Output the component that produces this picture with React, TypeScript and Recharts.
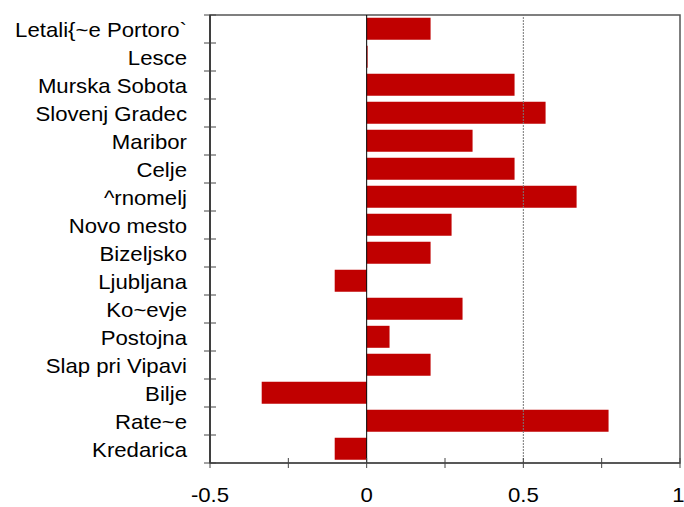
import { BarChart, Bar, XAxis, YAxis, ReferenceLine, ReferenceArea } from "recharts";

const RED = "#C00000";

const stations = [
  "Letali{~e Portoro`", "Lesce", "Murska Sobota", "Slovenj Gradec", "Maribor", "Celje",
  "^rnomelj", "Novo mesto", "Bizeljsko", "Ljubljana", "Ko~evje", "Postojna",
  "Slap pri Vipavi", "Bilje", "Rate~e", "Kredarica",
];
const values = [
  0.204, 0.003, 0.472, 0.571, 0.338, 0.472,
  0.67, 0.271, 0.204, -0.102, 0.306, 0.073,
  0.204, -0.335, 0.772, -0.102,
];
const xTicks = [-0.5, -0.25, 0, 0.25, 0.5, 0.75, 1];

const data = stations.map((name, i) => ({ name, value: values[i] }));

const FONT = "'Liberation Sans', Arial, sans-serif";

function YTick(props: any) {
  const { x, y, payload, index } = props;
  const half = 14;
  return (
    <g>
      <line x1={x - 6} x2={x + 6} y1={y - half} y2={y - half} stroke="#444" />
      {index === stations.length - 1 && <line x1={x - 6} x2={x + 6} y1={y + half} y2={y + half} stroke="#444" />}
      <text transform={`translate(${x - 23},${y + 7.5}) scale(1.12,1)`} textAnchor="end"
        fontSize={19.8} fontFamily={FONT} fill="#000">{payload.value}</text>
    </g>
  );
}

function XTick(props: any) {
  const { x, y, payload } = props;
  const major = Math.abs(payload.value * 2 - Math.round(payload.value * 2)) < 1e-6;
  return (
    <g>
      <line x1={x} x2={x} y1={y - 5} y2={y + 5} stroke="#444" />
      {major && (
        <text transform={`translate(${x - (payload.value === 1 ? 1.5 : 0)},${y + 39}) scale(1.12,1)`} textAnchor="middle"
          fontSize={19.8} fontFamily={FONT} fill="#000">{payload.value}</text>
      )}
    </g>
  );
}

export default function App() {
  return (
    <div style={{ position: "absolute", left: 0, top: 0, background: "#fff" }}>
      <BarChart width={684} height={507} data={data} layout="vertical"
        margin={{ top: 15, right: 4, left: 0, bottom: 0 }} barCategoryGap="10%">
        <ReferenceArea x1={-0.5} x2={1} fill="none" stroke="#555" strokeWidth={1.5} ifOverflow="visible" />
        <XAxis type="number" domain={[-0.5, 1]} ticks={xTicks} height={44} tickSize={0} tickMargin={0}
          axisLine={{ stroke: "#333" }} tick={<XTick />} interval={0} />
        <YAxis type="category" dataKey="name" width={210} tickSize={0} tickMargin={0}
          axisLine={{ stroke: "#000" }} tick={<YTick />} interval={0} />
        <ReferenceLine x={0.5} stroke="#777" strokeDasharray="2 1" />
        <Bar dataKey="value" fill={RED} isAnimationActive={false} />
        <ReferenceLine x={0} stroke="#000" />
      </BarChart>
    </div>
  );
}
